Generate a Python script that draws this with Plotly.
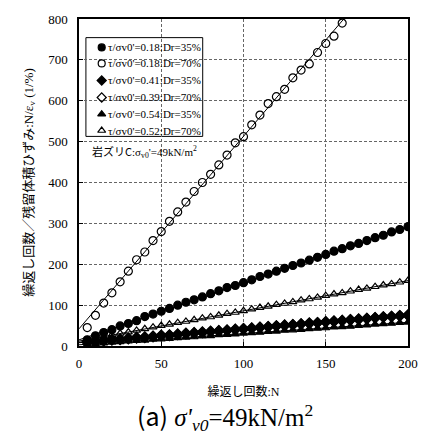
import plotly.graph_objects as go

# ---- data ----
N = [5, 10, 15, 20, 25, 30, 35, 40, 45, 50, 55, 60, 65, 70, 75, 80, 85, 90, 95, 100,
     105, 110, 115, 120, 125, 130, 135, 140, 145, 150, 155, 160, 165, 170, 175, 180,
     185, 190, 195, 200]

s1_filled_circle = [15, 25, 33, 40, 49, 55, 62, 72, 78, 85, 92, 100, 107, 113, 120, 128,
                    135, 143, 148, 155, 162, 170, 176, 183, 190, 197, 203, 210, 217, 224,
                    232, 238, 245, 251, 258, 265, 271, 279, 285, 292]
s2_open_circle = [45, 75, 105, 130, 157, 183, 211, 230, 258, 280, 305, 328, 352, 378, 400,
                  420, 443, 467, 497, 512, 541, 565, 593, 610, 628, 656, 675, 690, 718, 740,
                  758, 790]
s3_filled_diamond = [9, 11, 13, 15, 16, 18, 20, 21, 23, 25, 26, 28, 30, 32, 33, 35, 37, 38,
                     40, 42, 43, 45, 47, 49, 50, 52, 54, 55, 57, 59, 60, 62, 64, 65, 67, 69,
                     71, 72, 74, 76]
s4_open_diamond = [10, 12, 14, 16, 17, 19, 21, 22, 24, 26, 27, 29, 31, 32, 34, 36, 37, 39,
                   41, 42, 44, 46, 47, 49, 51, 52, 54, 56, 57, 59, 61, 62, 64, 66, 67, 69,
                   71, 72, 74, 75]
s5_filled_triangle = [3, 6, 7, 9, 10, 12, 13, 14, 16, 17, 18, 20, 21, 22, 24, 25, 27, 28,
                      29, 31, 32, 33, 35, 36, 38, 39, 40, 42, 43, 44, 46, 47, 48, 50, 51,
                      53, 54, 55, 57, 58]
s6_open_triangle = [14, 20, 23, 27, 31, 34, 38, 42, 46, 50, 53, 57, 60, 64, 68, 71, 75, 79,
                    82, 86, 90, 94, 97, 101, 104, 108, 112, 115, 119, 123, 127, 130, 134,
                    138, 141, 145, 149, 152, 156, 160]

labels = ["τ/σv0'=0.18:Dr=35%", "τ/σv0'=0.18:Dr=70%", "τ/σv0'=0.41:Dr=35%",
          "τ/σv0'=0.39:Dr=70%", "τ/σv0'=0.54:Dr=35%", "τ/σv0'=0.52:Dr=70%"]
symbols = ["circle", "circle-open", "diamond", "diamond-open", "triangle-up", "triangle-up-open"]

# fitted straight lines (intercept, slope)
fit_intercept = [15, 42, 8, 9, 3, 12]
fit_slope = [1.385, 4.71, 0.337, 0.333, 0.275, 0.74]

x_ticks = [0, 50, 100, 150, 200]
y_ticks = [0, 100, 200, 300, 400, 500, 600, 700, 800]

series = [s1_filled_circle, s2_open_circle, s3_filled_diamond, s4_open_diamond,
          s5_filled_triangle, s6_open_triangle]

SERIF = "Liberation Serif, Times New Roman, Tinos, DejaVu Serif, serif"
JP = "Noto Sans CJK JP"

fig = go.Figure()

# fit lines
for a, b in zip(fit_intercept, fit_slope):
    xs = [0, 200]
    fig.add_trace(go.Scatter(x=xs, y=[a + b * v for v in xs], mode="lines",
                             line=dict(color="black", width=1), showlegend=False,
                             hoverinfo="skip"))

# draw order: open diamonds first so filled markers cover them
order = [3, 5, 1, 0, 4, 2]
for i in order:
    ys = series[i]
    sz = 7 if "triangle" in symbols[i] else 8
    fig.add_trace(go.Scatter(
        x=N[:len(ys)], y=ys, mode="markers", name=labels[i], showlegend=False,
        marker=dict(symbol=symbols[i], size=sz, color="black",
                    line=dict(color="black", width=1.2))))

# ---- manual legend (box, markers on an overlay axis, texts) ----
leg_x0, leg_x1, leg_y0, leg_y1 = 0.021, 0.376, 0.641, 0.943
row_y = [0.913, 0.864, 0.812, 0.760, 0.709, 0.659]
mark_x = 0.069
text_x = 0.082
fig.add_shape(type="rect", xref="paper", yref="paper", x0=leg_x0, x1=leg_x1,
              y0=leg_y0, y1=leg_y1, line=dict(color="black", width=1),
              fillcolor="white", layer="between")
for i in range(6):
    fig.add_trace(go.Scatter(
        x=[mark_x], y=[row_y[i]], xaxis="x2", yaxis="y2", mode="markers",
        showlegend=False, hoverinfo="skip",
        marker=dict(symbol=symbols[i], size=7, color="black",
                    line=dict(color="black", width=1.2))))
    fig.add_annotation(x=text_x, y=row_y[i], xref="paper", yref="paper",
                       xanchor="left", yanchor="middle", showarrow=False,
                       text=labels[i], font=dict(family=SERIF, size=11, color="black"))

fig.add_annotation(
    x=0.2, y=0.596, xref="paper", yref="paper", showarrow=False,
    xanchor="center", yanchor="middle",
    text="<span style='font-family:Noto Sans CJK JP'>岩ズリC</span>:σ<sub>v0</sub>'=49kN/m<sup>2</sup>",
    font=dict(family=SERIF, size=11, color="black"))

fig.add_annotation(
    x=0.445, y=-0.215, xref="paper", yref="paper", showarrow=False,
    xanchor="center", yanchor="middle",
    text="<span style='font-family:Noto Sans CJK JP'>(a)</span> <i>σ'</i><sub><i>v0</i></sub>=49kN/m<sup>2</sup>",
    font=dict(family=SERIF, size=25, color="black"))

grid = dict(showgrid=True, gridcolor="#666666", gridwidth=1, griddash="3px,2px",
            showline=True, linecolor="black", linewidth=1.5, mirror=True,
            ticks="inside", ticklen=4, tickcolor="black", zeroline=False,
            tickfont=dict(family=SERIF, size=13, color="black"))

fig.update_xaxes(range=[0, 200], tickvals=x_ticks, **grid, ticklabelstandoff=5,
                 title=dict(text="繰返し回数<span style='font-family:Liberation Serif'>:N</span>",
                            font=dict(family=JP, size=12, color="black"), standoff=17))
fig.update_yaxes(range=[0, 800], tickvals=y_ticks, **grid, ticklabelstandoff=7,
                 title=dict(text="繰返し回数／残留体積ひずみ<span style='font-family:Liberation Serif'>:N/ε<sub>v</sub> (1/%)</span>",
                            font=dict(family=JP, size=13, color="black"), standoff=12))

fig.update_layout(
    width=430, height=434,
    margin=dict(l=79, r=21, t=12, b=88),
    plot_bgcolor="white", paper_bgcolor="white",
    xaxis2=dict(range=[0, 1], overlaying="x", visible=False, fixedrange=True),
    yaxis2=dict(range=[0, 1], overlaying="y", visible=False, fixedrange=True),
    showlegend=False,
)

fig.write_html("out.html")
